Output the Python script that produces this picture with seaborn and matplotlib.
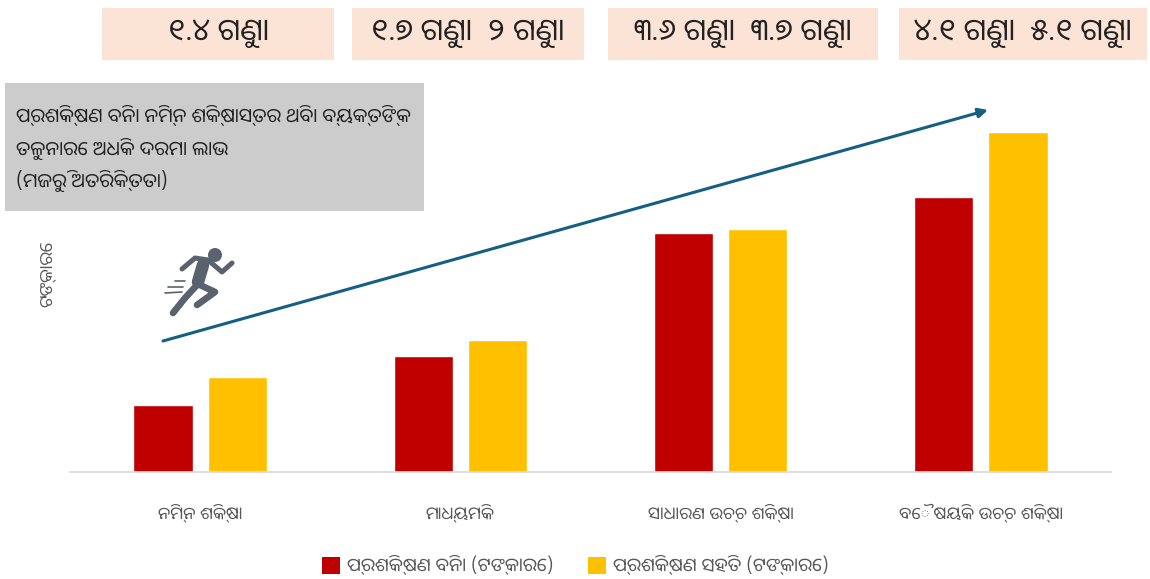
import matplotlib
matplotlib.use("Agg")
import matplotlib.pyplot as plt
import pandas as pd
import seaborn as sns
from matplotlib.lines import Line2D
from matplotlib.patches import Ellipse, Rectangle

categories = ["ନିମ୍ନ ଶିକ୍ଷା", "ମାଧ୍ୟମିକ", "ସାଧାରଣ ଉଚ୍ଚ ଶିକ୍ଷା", "ବୈଷୟିକ ଉଚ୍ଚ ଶିକ୍ଷା"]
series_names = ["ପ୍ରଶିକ୍ଷଣ ବିନା (ଟଙ୍କାରେ)", "ପ୍ରଶିକ୍ଷଣ ସହିତ (ଟଙ୍କାରେ)"]
without_training = [67, 116, 239, 275]
with_training = [95, 132, 243, 340]
multipliers = ["୧.୪ ଗୁଣା", "୧.୭ ଗୁଣା  ୨ ଗୁଣା", "୩.୬ ଗୁଣା  ୩.୭ ଗୁଣା", "୪.୧ ଗୁଣା  ୫.୧ ଗୁଣା"]
note = "ପ୍ରଶିକ୍ଷଣ ବିନା ନିମ୍ନ ଶିକ୍ଷାସ୍ତର ଥିବା ବ୍ୟକ୍ତିଙ୍କ\nତୁଳନାରେ ଅଧିକ ଦରମା ଲାଭ\n(ମଜୁରି ଅତିରିକ୍ତତା)"
y_label = "ଟଙ୍କାରେ"

W, H = 1150, 579

sns.set_theme(style="white")
plt.rcParams["font.family"] = ["Noto Sans Oriya", "DejaVu Sans"]

df = pd.DataFrame({
    "category": categories * 2,
    "series": [series_names[0]] * 4 + [series_names[1]] * 4,
    "value": without_training + with_training,
})

fig = plt.figure(figsize=(W / 100, H / 100), dpi=100)
ax = fig.add_axes([70 / W, 1 - 472 / H, 1041 / W, 372 / H])


def fx(x):
    return x / W


def fy(y):
    return 1 - y / H


sns.barplot(
    data=df, x="category", y="value", hue="series", ax=ax,
    palette=["#C00000", "#FFC000"], width=0.569, gap=0.2,
    saturation=1, legend=False,
)
ax.set_ylim(0, 372)
ax.set_xlim(-0.5, 3.5)
ax.set_yticks([])
ax.set_xlabel("")
ax.set_ylabel("")
ax.tick_params(axis="x", length=0, pad=23, labelsize=12.5, labelcolor="#595959")
sns.despine(ax=ax, left=True)
ax.spines["bottom"].set_color("#D9D9D9")
ax.patch.set_alpha(0)

# top boxes with the multipliers
boxes = [(102, 232), (352, 232), (608, 270), (899, 248)]
for (left, width), label in zip(boxes, multipliers):
    fig.add_artist(Rectangle((fx(left), fy(60)), width / W, 52 / H,
                             transform=fig.transFigure, color="#FBE3D6", lw=0))
    fig.text(fx(left + width / 2), fy(33), label, ha="center", va="center",
             fontsize=22, color="#222222")

# grey note
fig.add_artist(Rectangle((fx(5), fy(211)), 419 / W, 128 / H,
                         transform=fig.transFigure, color="#CCCCCC", lw=0))
fig.text(fx(16), fy(149), note, ha="left", va="center", fontsize=14,
         color="#222222", linespacing=1.6)

# trend arrow
ax.annotate("", xy=(fx(988), fy(110)), xytext=(fx(163), fy(341)),
            xycoords="figure fraction", textcoords="figure fraction",
            arrowprops=dict(arrowstyle="-|>", color="#156082", lw=2.2,
                            mutation_scale=14, shrinkA=0, shrinkB=0))

# y label
fig.text(fx(47), fy(274), y_label, rotation=90, ha="center", va="center",
         fontsize=13, color="#595959")

# runner icon
runner = "#59636E"
fig.add_artist(Ellipse((fx(215), fy(255)), 14 / W, 14 / H,
                       transform=fig.transFigure, color=runner, lw=0))
limbs = [
    ([182, 195, 208, 222, 232], [269, 258, 260, 272, 263], 3.6),  # arms
    ([203, 198], [265, 282], 9),  # torso
    ([197, 185, 173], [285, 298, 313], 4.8),  # back leg
    ([200, 215, 197], [285, 292, 305], 4.8),  # front leg
    ([175, 185], [281, 281], 1.2),
    ([168, 183], [287, 287], 1.2),
    ([165, 182], [293, 292], 1.2),
]
for xs, ys, lw in limbs:
    fig.add_artist(Line2D([fx(v) for v in xs], [fy(v) for v in ys], color=runner,
                          lw=lw, solid_capstyle="round", solid_joinstyle="round",
                          transform=fig.transFigure))

# legend
legend_items = [(322, series_names[0], "#C00000"), (588, series_names[1], "#FFC000")]
for left, label, color in legend_items:
    fig.add_artist(Rectangle((fx(left), fy(574)), 18 / W, 17 / H,
                             transform=fig.transFigure, color=color, lw=0))
    fig.text(fx(left + 25), fy(565), label, ha="left", va="center", fontsize=13.5,
             color="#595959")

fig.savefig("out.png", dpi=100)
